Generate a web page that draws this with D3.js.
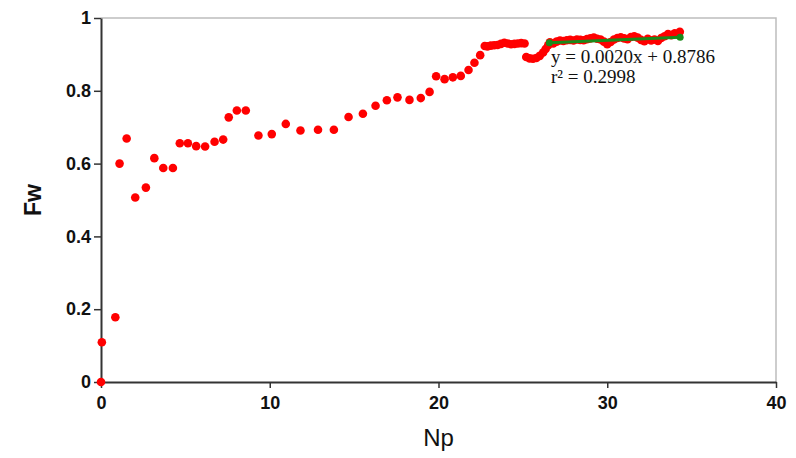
<!DOCTYPE html>
<html>
<head>
<meta charset="utf-8">
<script src="https://cdn.jsdelivr.net/npm/d3@7"></script>
<style>
  body { margin: 0; background: #fff; }
  svg { display: block; }
</style>
</head>
<body>
<div id="chart"></div>
<script>
// Np values (x)
const npValues = [
  0, 0.05, 0.85, 1.1, 1.52, 2.03, 2.66, 3.16, 3.69, 4.26, 4.67, 5.15, 5.64, 6.17, 6.73, 7.24,
  7.57, 8.05, 8.58, 9.33, 10.12, 10.95, 11.82, 12.86, 13.8, 14.67, 15.52, 16.27, 16.94, 17.57,
  18.28, 18.95, 19.47, 19.86, 20.36, 20.85, 21.32, 21.78, 22.13, 22.47, 22.74,
  22.9, 23.1, 23.3, 23.5, 23.7, 23.9, 24.1, 24.3, 24.5, 24.7, 24.9, 25.1,
  25.2, 25.4, 25.6, 25.8, 26.0, 26.2, 26.35, 26.5,
  26.6, 26.8, 27.0, 27.2, 27.4, 27.6, 27.8, 28.0, 28.2, 28.4, 28.6, 28.8, 29.0, 29.2, 29.4,
  29.6, 29.8, 30.0, 30.2, 30.4, 30.6, 30.8, 31.0, 31.2, 31.4, 31.6, 31.8, 32.0, 32.2, 32.4,
  32.6, 32.8, 33.0, 33.2, 33.4, 33.6, 33.8, 34.0, 34.2, 34.3
];
// Fw values (y)
const fwValues = [
  0, 0.109, 0.178, 0.6, 0.669, 0.507, 0.534, 0.615, 0.588, 0.588, 0.656, 0.656, 0.648, 0.647, 0.66, 0.666,
  0.727, 0.746, 0.746, 0.677, 0.681, 0.709, 0.691, 0.693, 0.693, 0.728, 0.737, 0.759, 0.774, 0.782,
  0.775, 0.78, 0.797, 0.84, 0.832, 0.837, 0.841, 0.857, 0.877, 0.898, 0.923,
  0.922, 0.924, 0.925, 0.926, 0.929, 0.932, 0.93, 0.928, 0.929, 0.93, 0.931, 0.93,
  0.893, 0.889, 0.888, 0.89, 0.896, 0.905, 0.915, 0.925,
  0.933, 0.93, 0.935, 0.938, 0.937, 0.939, 0.94, 0.938, 0.941, 0.94, 0.939, 0.942, 0.944, 0.946, 0.943,
  0.941, 0.935, 0.928, 0.934, 0.941, 0.945, 0.947, 0.944, 0.942, 0.948, 0.95, 0.946, 0.94, 0.936, 0.943,
  0.938, 0.941, 0.937, 0.945, 0.95, 0.956, 0.953, 0.958, 0.955, 0.962
];

const xTicks = [0, 10, 20, 30, 40];
const yTicks = [0, 0.2, 0.4, 0.6, 0.8, 1];

// trend line y = 0.0020x + 0.8786 over the last part of the data
const trendSlope = 0.0020;
const trendIntercept = 0.8786;
const trendRange = [26.57, 34.32];
const trendLabels = ['y = 0.0020x + 0.8786', 'r² = 0.2998'];

const width = 796, height = 458;
const margin = { top: 18, right: 20, bottom: 76, left: 101 };

const svg = d3.select('#chart')
  .append('svg')
  .attr('width', width)
  .attr('height', height);

const x = d3.scaleLinear().domain([0, 40]).range([margin.left, width - margin.right]);
const y = d3.scaleLinear().domain([0, 1]).range([height - margin.bottom, margin.top]);

// frame on top and right
svg.append('path')
  .attr('d', `M${x(0)},${y(1)}H${x(40)}V${y(0)}`)
  .attr('fill', 'none')
  .attr('stroke', '#bdbdbd')
  .attr('stroke-width', 1.5);

const xAxis = svg.append('g')
  .attr('transform', `translate(0,${y(0)})`)
  .call(d3.axisBottom(x).tickValues(xTicks).tickFormat(d3.format('d')).tickSize(6).tickSizeOuter(0));

const yAxis = svg.append('g')
  .attr('transform', `translate(${x(0)},0)`)
  .call(d3.axisLeft(y).tickValues(yTicks).tickFormat(d => d === 0 || d === 1 ? d : d3.format('.1f')(d)).tickSize(7).tickSizeOuter(0));

[xAxis, yAxis].forEach(g => {
  g.select('.domain').attr('stroke', '#333').attr('stroke-width', 2);
  g.selectAll('.tick line').attr('stroke', '#333').attr('stroke-width', 1.5);
  g.selectAll('.tick text')
    .attr('fill', '#111')
    .style('font-family', '"Liberation Sans", Arial, sans-serif')
    .style('font-size', '18px')
    .style('font-weight', 'bold');
});
xAxis.selectAll('.tick text').attr('dy', '1.0em');
yAxis.selectAll('.tick text').attr('x', -10);

// axis titles
svg.append('text')
  .attr('x', x(20))
  .attr('y', 446)
  .attr('text-anchor', 'middle')
  .style('font-family', '"Liberation Sans", Arial, sans-serif')
  .style('font-size', '24px')
  .style('font-weight', '500')
  .attr('fill', '#111')
  .text('Np');

svg.append('text')
  .attr('transform', `translate(41,${y(0.5)}) rotate(-90)`)
  .attr('text-anchor', 'middle')
  .style('font-family', '"Liberation Sans", Arial, sans-serif')
  .style('font-size', '23px')
  .style('font-weight', 'bold')
  .attr('fill', '#111')
  .text('Fw');

// points
const points = npValues.map((v, i) => ({ np: v, fw: fwValues[i] }));
svg.append('g')
  .selectAll('circle')
  .data(points)
  .enter()
  .append('circle')
  .attr('cx', d => x(d.np))
  .attr('cy', d => y(d.fw))
  .attr('r', 4.3)
  .attr('fill', '#ff0000');

// trend line
const trendPts = trendRange.map(v => ({ np: v, fw: trendSlope * v + trendIntercept }));
svg.append('line')
  .attr('x1', x(trendPts[0].np))
  .attr('y1', y(trendPts[0].fw))
  .attr('x2', x(trendPts[1].np))
  .attr('y2', y(trendPts[1].fw))
  .attr('stroke', '#1a8a1a')
  .attr('stroke-width', 3);
svg.append('g')
  .selectAll('circle')
  .data(trendPts)
  .enter()
  .append('circle')
  .attr('cx', d => x(d.np))
  .attr('cy', d => y(d.fw))
  .attr('r', 3.5)
  .attr('fill', '#1a8a1a');

// equation text
svg.append('g')
  .selectAll('text')
  .data(trendLabels)
  .enter()
  .append('text')
  .attr('x', 551)
  .attr('y', (d, i) => 63 + i * 20)
  .style('font-family', '"Liberation Serif", "Times New Roman", serif')
  .style('font-size', '19px')
  .attr('fill', '#111')
  .text(d => d);
</script>
</body>
</html>
